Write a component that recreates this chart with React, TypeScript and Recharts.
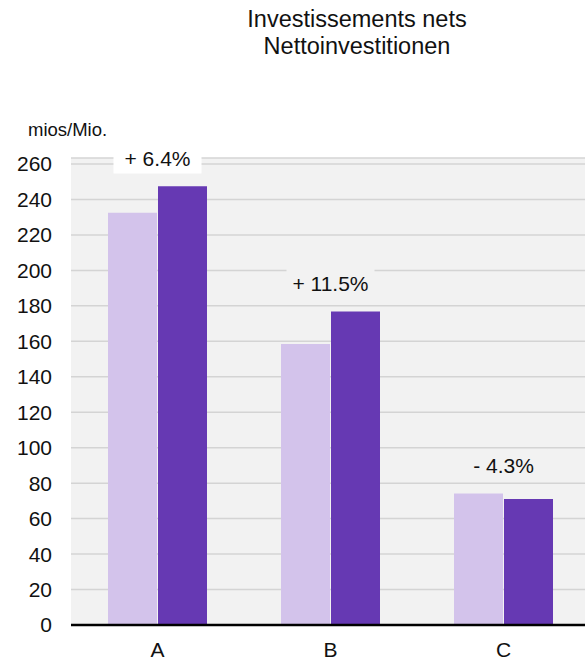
import React from "react";
import {
  ComposedChart,
  Bar,
  Line,
  XAxis,
  YAxis,
  CartesianGrid,
  LabelList,
} from "recharts";

const categories = ["A", "B", "C"];
const previousValues = [232.5, 158.5, 74.2];
const currentValues = [247.4, 176.8, 71.0];
const changeLabels = ["+ 6.4%", "+ 11.5%", "- 4.3%"];
const yTicks = [0, 20, 40, 60, 80, 100, 120, 140, 160, 180, 200, 220, 240, 260];

const data = categories.map((c, i) => ({
  name: c,
  previous: previousValues[i],
  current: currentValues[i],
  labelPos: Math.max(previousValues[i], currentValues[i]) + 16,
}));

const FONT = "'Liberation Sans', Arial, sans-serif";

function ChangeLabel(props: any) {
  const { x, y, index } = props;
  if (x == null || y == null) return null;
  return (
    <g>
      <rect
        x={x - 44}
        y={y - 15.5}
        width={88}
        height={31}
        fill={index === 0 ? "#ffffff" : "#f2f2f2"}
      />
      <text
        x={x}
        y={y}
        dy="0.36em"
        textAnchor="middle"
        fontSize={21}
        fontFamily={FONT}
        fill="#111"
      >
        {changeLabels[index]}
      </text>
    </g>
  );
}

export default function App() {
  return (
    <div
      style={{
        position: "fixed",
        left: 0,
        top: 0,
        width: 585,
        height: 661,
        overflow: "hidden",
        background: "#fff",
        fontFamily: FONT,
      }}
    >
      <div
        style={{
          position: "absolute",
          left: 207,
          width: 300,
          top: 6,
          textAlign: "center",
          fontSize: 23.5,
          lineHeight: "27px",
          color: "#111",
        }}
      >
        Investissements nets
        <br />
        Nettoinvestitionen
      </div>
      <div
        style={{
          position: "absolute",
          left: 28,
          top: 120,
          fontSize: 18.5,
          lineHeight: "20px",
          color: "#111",
        }}
      >
        mios/Mio.
      </div>
      <div style={{ position: "absolute", left: 0, top: 0 }}>
        <ComposedChart
          width={590}
          height={661}
          data={data}
          margin={{ top: 158, right: 0, bottom: 0, left: 0 }}
          barGap={1}
        >
          <CartesianGrid
            vertical={false}
            stroke="#d4d4d4"
            strokeWidth={1.5}
            fill="#f2f2f2"
          />
          <XAxis
            dataKey="name"
            height={36}
            axisLine={{ stroke: "#000", strokeWidth: 2.5 }}
            tickLine={false}
            tickSize={0}
            tickMargin={17}
            tick={{ fill: "#111", fontSize: 21, fontFamily: FONT }}
          />
          <YAxis
            width={71}
            domain={[0, 260]}
            ticks={yTicks}
            axisLine={false}
            tickLine={false}
            tickSize={0}
            tickMargin={19}
            interval={0}
            tick={{ fill: "#111", fontSize: 21, fontFamily: FONT }}
          />
          <Bar
            dataKey="previous"
            fill="#d3c3eb"
            barSize={49}
            isAnimationActive={false}
          />
          <Bar
            dataKey="current"
            fill="#6639b3"
            barSize={49}
            isAnimationActive={false}
          />
          <Line
            dataKey="labelPos"
            stroke="none"
            dot={false}
            activeDot={false}
            isAnimationActive={false}
          >
            <LabelList dataKey="labelPos" content={<ChangeLabel />} />
          </Line>
        </ComposedChart>
      </div>
    </div>
  );
}
